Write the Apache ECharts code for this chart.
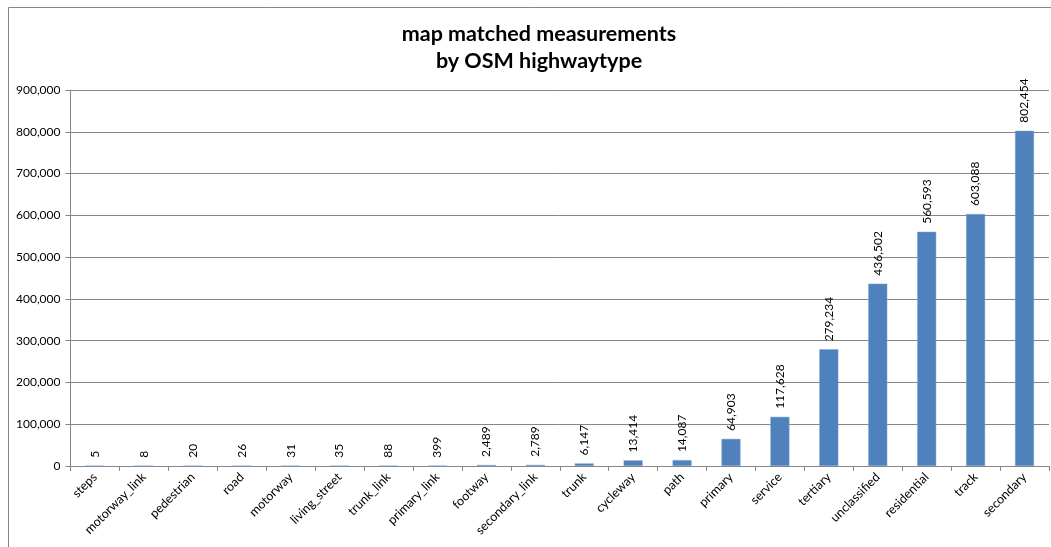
<!DOCTYPE html>
<html>
<head>
<meta charset="utf-8">
<style>
  html, body { margin: 0; padding: 0; background: #fff; }
  #chart { width: 1051px; height: 547px; }
</style>
<script src="https://cdn.jsdelivr.net/npm/echarts@6/dist/echarts.min.js"></script>
</head>
<body>
<div id="chart"></div>
<script>
// Highway types, sorted by number of matched measurements
const categories = [
  'steps', 'motorway_link', 'pedestrian', 'road', 'motorway', 'living_street',
  'trunk_link', 'primary_link', 'footway', 'secondary_link', 'trunk', 'cycleway',
  'path', 'primary', 'service', 'tertiary', 'unclassified', 'residential',
  'track', 'secondary'
];
const measurements = [
  5, 8, 20, 26, 31, 35, 88, 399, 2489, 2789, 6147, 13414,
  14087, 64903, 117628, 279234, 436502, 560593, 603088, 802454
];
const yTicks = { min: 0, max: 900000, interval: 100000 };

const FONT = 'Lato, "Open Sans", "DejaVu Sans", sans-serif';
const fmt = v => Number(v).toLocaleString('en-US');

const chart = echarts.init(document.getElementById('chart'), null, { renderer: 'canvas' });
chart.setOption({
  animation: false,
  backgroundColor: '#ffffff',
  title: {
    text: 'map matched measurements\nby OSM highwaytype',
    left: 534,
    textAlign: 'center',
    top: 16,
    textStyle: {
      fontFamily: FONT,
      fontSize: 21.5,
      fontWeight: 'bold',
      color: '#000',
      lineHeight: 27
    }
  },
  graphic: [{
    type: 'rect',
    shape: { x: 8.5, y: 7.5, width: 1100, height: 600 },
    style: { fill: 'none', stroke: '#868686', lineWidth: 1 },
    silent: true,
    z: -1
  }],
  grid: { left: 70.5, right: 2, top: 90, bottom: 81, containLabel: false },
  xAxis: {
    type: 'category',
    data: categories,
    axisLine: { show: true, lineStyle: { color: '#868686', width: 1 } },
    axisTick: { show: true, alignWithLabel: false, length: 5, lineStyle: { color: '#868686' } },
    axisLabel: {
      interval: 0,
      rotate: 45,
      margin: 9,
      fontFamily: FONT,
      fontSize: 12.5,
      color: '#000'
    }
  },
  yAxis: {
    type: 'value',
    min: yTicks.min,
    max: yTicks.max,
    interval: yTicks.interval,
    axisLine: { show: true, lineStyle: { color: '#868686', width: 1 } },
    axisTick: { show: true, length: 5, lineStyle: { color: '#868686' } },
    splitLine: { show: true, lineStyle: { color: '#868686', width: 1 } },
    axisLabel: {
      formatter: v => fmt(v),
      margin: 10,
      fontFamily: FONT,
      fontSize: 12,
      color: '#000'
    }
  },
  series: [{
    type: 'bar',
    data: measurements,
    barWidth: 19,
    itemStyle: { color: '#4F81BD', borderColor: '#7ea3d1', borderWidth: 0.5 },
    label: {
      show: true,
      position: 'top',
      rotate: 90,
      align: 'left',
      verticalAlign: 'middle',
      distance: 8,
      formatter: p => fmt(p.value),
      fontFamily: FONT,
      fontSize: 12,
      color: '#000'
    }
  }]
});
</script>
</body>
</html>
